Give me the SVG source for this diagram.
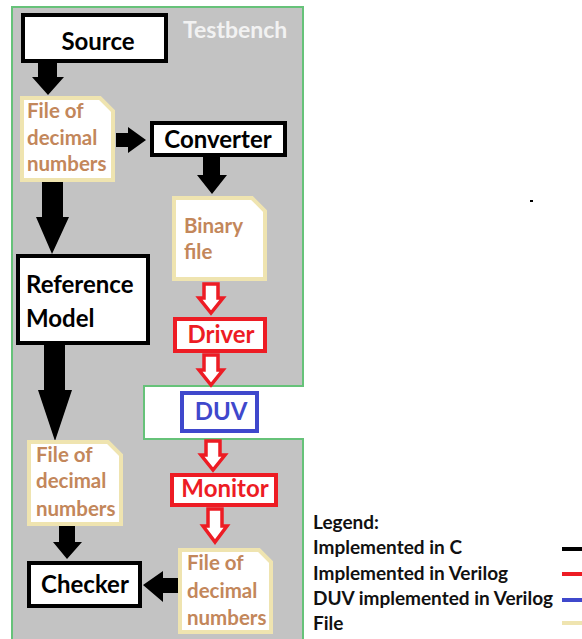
<svg xmlns="http://www.w3.org/2000/svg" width="582" height="639" viewBox="0 0 582 639">
  <style>
    text { font-family: Lato, "Liberation Sans", sans-serif; font-weight: bold; }
    .box { fill: #ffffff; stroke-width: 4; }
    .c { stroke: #000000; }
    .v { stroke: #ed1c24; }
    .d { stroke: #3f48cc; }
    .note { fill: #ffffff; stroke: #efe4b0; stroke-width: 4; stroke-linejoin: miter; }
    .lbl { font-size: 24px; text-anchor: middle; fill: #000000; }
    .red { fill: #ed1c24; }
    .ftxt { font-size: 20.5px; fill: #c3875b; }
    .solid { fill: #000000; }
    .hollow { fill: #ffffff; stroke: #ed1c24; stroke-width: 3.5; stroke-linejoin: miter; }
    .leg { font-size: 19px; fill: #111111; }
  </style>

  <!-- testbench panel with the DUV cut-out on its right edge -->
  <g id="testbench">
    <path d="M12,7 H303 V386 H144 V439 H303 V645 H12 Z" fill="#c3c3c3" stroke="#66c279" stroke-width="2"/>
    <text x="183" y="38" font-size="23" fill="#f2f2f2">Testbench</text>
  </g>

  <!-- connectors -->
  <g id="connectors">
    <!-- C-side solid arrows -->
    <polygon class="solid" points="38,63 57,63 57,77 64,77 48,95 32,77 38,77"/>
    <polygon class="solid" points="116,133 128,133 128,127 146,140 128,153 128,147 116,147"/>
    <polygon class="solid" points="203,157 220,157 220,175 227,175 212,194 197,175 203,175"/>
    <polygon class="solid" points="42,182 63,182 63,217 69,217 52,254 36,217 42,217"/>
    <polygon class="solid" points="44,345 65,345 65,390 72,390 55,441 38,390 44,390"/>
    <polygon class="solid" points="59,526 75,526 75,542 82,542 67,559 53,542 59,542"/>
    <polygon class="solid" points="179,578 179,593 163,593 163,602 143,585 163,571 163,578"/>
    <!-- Verilog-side hollow arrows -->
    <polygon class="hollow" points="204,284 218,284 218,298 223,298 211,313 199,298 204,298"/>
    <polygon class="hollow" points="204,355 218,355 218,370 223,370 211,385 199,370 204,370"/>
    <polygon class="hollow" points="206,441 220,441 220,455 225,455 213,470 201,455 206,455"/>
    <polygon class="hollow" points="208,509 222,509 222,526 227,526 215,542 203,526 208,526"/>
  </g>

  <g id="source">
    <rect class="box c" x="23" y="15" width="143" height="46"/>
    <text class="lbl" x="98" y="50" font-size="25">Source</text>
  </g>

  <g id="file-decimal-in">
    <path class="note" d="M22,98 H100 L113,111 V180 H22 Z"/>
    <text class="ftxt" x="27" y="118">File of</text>
    <text class="ftxt" x="27" y="145">decimal</text>
    <text class="ftxt" x="27" y="171">numbers</text>
  </g>

  <g id="converter">
    <rect class="box c" x="152" y="123" width="133" height="32"/>
    <text class="lbl" x="218" y="148">Converter</text>
  </g>

  <g id="binary-file">
    <path class="note" d="M174,198 H252 L265,211 V279 H174 Z"/>
    <text class="ftxt" x="184" y="233">Binary</text>
    <text class="ftxt" x="184" y="259">file</text>
  </g>

  <g id="reference-model">
    <rect class="box c" x="18" y="256" width="130" height="87"/>
    <text class="lbl" x="26" y="293" style="text-anchor:start">Reference</text>
    <text class="lbl" x="26" y="327" style="text-anchor:start">Model</text>
  </g>

  <g id="driver">
    <rect class="box v" x="175" y="319" width="90" height="32"/>
    <text class="lbl red" x="221" y="343">Driver</text>
  </g>

  <g id="duv">
    <rect class="box d" x="182" y="393" width="75" height="38"/>
    <text class="lbl" x="221" y="420" style="fill:#3f48cc" font-size="25">DUV</text>
  </g>

  <g id="file-decimal-ref">
    <path class="note" d="M29,442 H108 L121,455 V524 H29 Z"/>
    <text class="ftxt" x="36" y="462">File of</text>
    <text class="ftxt" x="36" y="488">decimal</text>
    <text class="ftxt" x="36" y="516">numbers</text>
  </g>

  <g id="monitor">
    <rect class="box v" x="172" y="475" width="104" height="30"/>
    <text class="lbl red" x="225" y="497">Monitor</text>
  </g>

  <g id="file-decimal-out">
    <path class="note" d="M180,550 H259 L271,562 V632 H180 Z"/>
    <text class="ftxt" x="187" y="570">File of</text>
    <text class="ftxt" x="187" y="598">decimal</text>
    <text class="ftxt" x="187" y="625">numbers</text>
  </g>

  <g id="checker">
    <rect class="box c" x="29" y="563" width="111" height="43"/>
    <text class="lbl" x="85" y="593">Checker</text>
  </g>

  <!-- legend -->
  <g id="legend">
    <text class="leg" x="313" y="529">Legend:</text>
    <text class="leg" x="313" y="554">Implemented in C</text>
    <text class="leg" x="313" y="580">Implemented in Verilog</text>
    <text class="leg" x="313" y="605">DUV implemented in Verilog</text>
    <text class="leg" x="313" y="630">File</text>
    <rect x="562" y="547" width="20" height="4" fill="#000000"/>
    <rect x="562" y="572" width="20" height="4" fill="#ed1c24"/>
    <rect x="562" y="598" width="20" height="4" fill="#3f48cc"/>
    <rect x="562" y="621" width="20" height="4" fill="#efe4b0"/>
  </g>

  <rect x="530" y="200" width="3" height="2" fill="#000000"/>
</svg>
